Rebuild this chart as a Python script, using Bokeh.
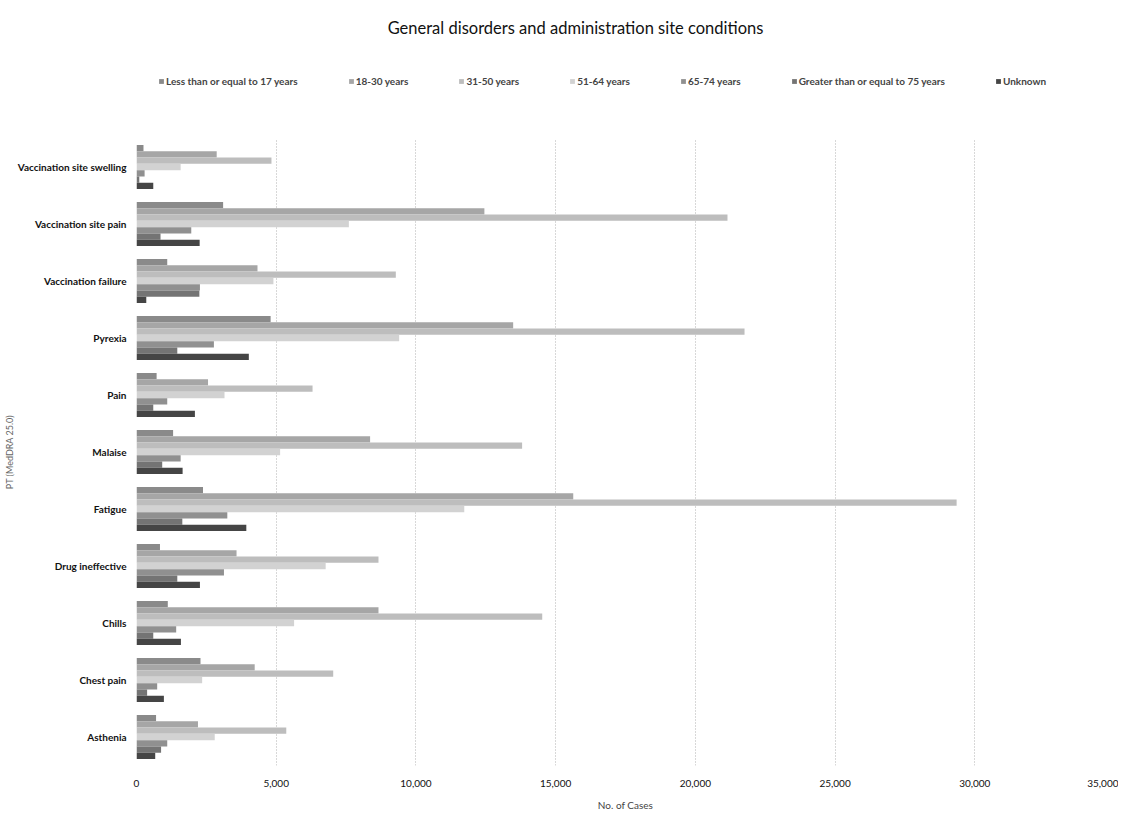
from bokeh.plotting import figure
from bokeh.layouts import column
from bokeh.models import (ColumnDataSource, FactorRange, Legend, LegendItem, Label,
                          NumeralTickFormatter, FixedTicker)
from bokeh.transform import dodge
from bokeh.embed import file_html
from bokeh.resources import INLINE

categories = ["Asthenia", "Chest pain", "Chills", "Drug ineffective", "Fatigue", "Malaise",
              "Pain", "Pyrexia", "Vaccination failure", "Vaccination site pain",
              "Vaccination site swelling"]

series_names = ["Less than or equal to 17 years", "18-30 years", "31-50 years", "51-64 years",
                "65-74 years", "Greater than or equal to 75 years", "Unknown"]

le17 = [700, 2290, 1120, 840, 2380, 1310, 720, 4800, 1100, 3100, 250]
a18_30 = [2200, 4230, 8660, 3580, 15630, 8360, 2560, 13480, 4330, 12450, 2870]
a31_50 = [5360, 7040, 14520, 8660, 29350, 13800, 6300, 21760, 9280, 21150, 4830]
a51_64 = [2800, 2350, 5640, 6770, 11730, 5140, 3150, 9400, 4900, 7600, 1580]
a65_74 = [1100, 740, 1420, 3130, 3250, 1580, 1100, 2770, 2270, 1960, 290]
ge75 = [880, 380, 600, 1460, 1640, 920, 600, 1460, 2250, 860, 100]
unknown = [670, 980, 1590, 2270, 3930, 1650, 2090, 4020, 350, 2260, 600]

colors = ["#8a8a8a", "#a6a6a6", "#bdbdbd", "#d2d2d2", "#909090", "#747474", "#454545"]

x_ticks = [0, 5000, 10000, 15000, 20000, 25000, 30000, 35000]

source = ColumnDataSource(data=dict(cat=categories, s0=le17, s1=a18_30, s2=a31_50,
                                    s3=a51_64, s4=a65_74, s5=ge75, s6=unknown))

font = "Lato"
W = 1118
TOP_H = 130
MAIN_H = 685

# ---------- header figure: title + legend ----------
top = figure(width=W, height=TOP_H, output_backend="svg", toolbar_location=None,
             x_range=(0, 1), y_range=(0, 1), min_border=0)
top.axis.visible = False
top.grid.visible = False
top.outline_line_color = None
dummy = []
for i in range(7):
    r = top.hbar(y=[-5], right=[0.1], left=[0], height=0.1, fill_color=colors[i], line_color=None)
    dummy.append(r)
top.add_layout(Label(x=439, y=103, x_units="screen", y_units="screen",
                     text="General disorders and administration site conditions",
                     text_font=font, text_font_size="16.5px", text_align="center",
                     text_baseline="middle", text_color="#111111"))
legend = Legend(items=[LegendItem(label=series_names[i], renderers=[dummy[i]]) for i in range(7)],
                orientation="horizontal", location=(22, 43),
                label_text_font=font, label_text_font_size="10px", label_text_font_style="bold",
                glyph_width=6, glyph_height=6, label_standoff=2, spacing=50,
                border_line_color=None, background_fill_alpha=0, padding=2, margin=0)
top.add_layout(legend, "center")

# ---------- main chart ----------
p = figure(width=W, height=MAIN_H, output_backend="svg", toolbar_location=None,
           y_range=FactorRange(*categories, range_padding=0), x_range=(0, 35000),
           min_border_left=128, min_border_right=4, min_border_top=8, min_border_bottom=50)

bar_h = 0.11
for i in range(7):
    p.hbar(y=dodge("cat", (3 - i) * bar_h, range=p.y_range), right="s%d" % i, left=0,
           height=bar_h, source=source, fill_color=colors[i], line_color=None)

p.xaxis.ticker = FixedTicker(ticks=x_ticks)
p.xaxis.formatter = NumeralTickFormatter(format="0,0")
p.xaxis.axis_line_color = None
p.xaxis.major_tick_line_color = None
p.xaxis.minor_tick_line_color = None
p.xaxis.major_label_text_font = font
p.xaxis.major_label_text_font_size = "10px"
p.xaxis.major_label_text_color = "#111111"
p.xaxis.major_label_standoff = 8
p.xaxis.axis_label = "No. of Cases"
p.xaxis.axis_label_text_font = font
p.xaxis.axis_label_text_font_size = "10px"
p.xaxis.axis_label_text_font_style = "normal"
p.xaxis.axis_label_standoff = 9

p.yaxis.axis_line_color = None
p.yaxis.major_tick_line_color = None
p.yaxis.minor_tick_line_color = None
p.yaxis.major_label_text_font = font
p.yaxis.major_label_text_font_size = "10px"
p.yaxis.major_label_text_font_style = "bold"
p.yaxis.major_label_text_color = "#111111"
p.yaxis.major_label_standoff = 4
p.yaxis.axis_label = "PT (MedDRA 25.0)"
p.yaxis.axis_label_text_font = font
p.yaxis.axis_label_text_font_size = "9px"
p.yaxis.axis_label_text_font_style = "normal"
p.yaxis.axis_label_text_color = "#666666"
p.yaxis.axis_label_standoff = 0

p.xgrid.grid_line_color = "#b0b0b0"
p.xgrid.grid_line_dash = "1 2"
p.ygrid.grid_line_color = None
p.outline_line_color = None

layout = column(top, p, spacing=0)
open("out.html", "w").write(file_html(layout, INLINE))
